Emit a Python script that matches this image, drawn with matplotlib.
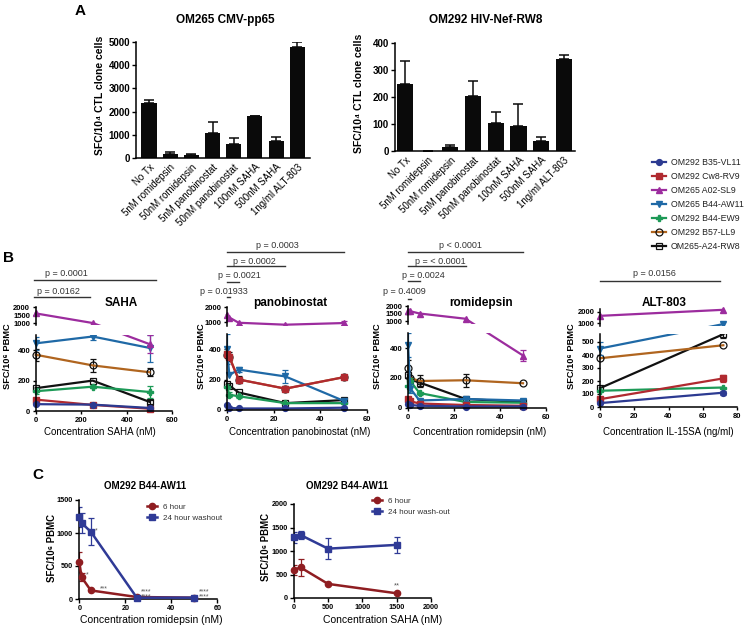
import numpy as np
import matplotlib
matplotlib.use('Agg')
import matplotlib.pyplot as plt
from matplotlib import transforms
from matplotlib.lines import Line2D

plt.rcParams['font.family'] = ['Liberation Sans', 'DejaVu Sans']

W, H = 746, 630

# ---- panel A data
tx_labels = ['No Tx', '5nM romidepsin', '50nM romidepsin', '5nM panobinostat',
             '50nM panobinostat', '100nM SAHA', '500nM SAHA', '1ng/ml ALT-803']
cmv_vals = [2350, 170, 110, 1070, 600, 1800, 740, 4770]
cmv_err = [170, 100, 60, 490, 260, 10, 150, 240]
nef_vals = [250, 0, 14, 204, 104, 93, 37, 342]
nef_err = [83, 0, 7, 56, 40, 81, 15, 12]

# ---- panel B data (order of clones below)
clones = ['OM292 B35-VL11', 'OM292 Cw8-RV9', 'OM265 A02-SL9', 'OM265 B44-AW11',
          'OM292 B44-EW9', 'OM292 B57-LL9', 'OM265-A24-RW8']
clone_colors = ['#2c3a91', '#b02a30', '#9c2c9e', '#1f69a6', '#1d9a57', '#b0651f', '#111111']
clone_markers = ['o', 's', '^', 'v', 'P', 'o', 's']
clone_open = [False, False, False, False, False, True, True]

saha_x = [0, 250, 500]
saha_vals = [[45, 42, 20], [75, 40, 15], [1600, 1000, 440], [445, 490, 415],
             [130, 160, 125], [370, 300, 255], [150, 200, 60]]
saha_err = [[0, 0, 0], [0, 0, 0], [0, 0, 60], [45, 25, 95],
            [20, 10, 40], [40, 45, 25], [0, 0, 15]]

pano_x = [0, 1, 5, 25, 50]
pano_vals = [[35, 15, 10, 10, 15], [370, 345, 200, 140, 215], [1500, 1300, 950, 820, 930],
             [400, 230, 265, 220, 60], [150, 100, 90, 45, 45], [360, 350, 200, 140, 215],
             [170, 160, 115, 45, 65]]
pano_err = [[0, 0, 0, 0, 0], [0, 0, 0, 0, 0], [0, 0, 0, 0, 150],
            [100, 0, 15, 40, 10], [10, 15, 10, 0, 0], [0, 30, 25, 15, 10],
            [0, 0, 0, 0, 0]]

romi_x = [0, 1, 5, 25, 50]
romi_vals = [[30, 20, 15, 10, 10], [60, 45, 30, 20, 15], [1700, 1650, 1500, 1150, 350],
             [420, 130, 50, 60, 50], [150, 180, 100, 40, 35], [270, 200, 180, 185, 165],
             [220, 190, 170, 60, 40]]
romi_err = [[0, 0, 0, 0, 0], [0, 0, 0, 0, 0], [0, 0, 0, 0, 35],
            [80, 30, 10, 15, 10], [40, 20, 10, 0, 0], [50, 0, 40, 45, 0],
            [0, 0, 0, 0, 0]]

alt_x = [0, 72]
alt_vals = [[30, 110], [60, 220], [1650, 2200], [450, 900], [125, 150], [375, 475], [145, 560]]
alt_err = [[0, 15], [0, 25], [0, 0], [50, 0], [0, 0], [0, 0], [0, 30]]

# ---- panel C data
c_romi_x = [0, 1, 5, 25, 50]
c_romi_6h = [560, 330, 130, 30, 20]
c_romi_6h_err = [150, 60, 0, 0, 0]
c_romi_24h = [1240, 1150, 1020, 20, 20]
c_romi_24h_err = [150, 150, 200, 0, 0]

c_saha_x = [0, 100, 500, 1500]
c_saha_6h = [600, 650, 300, 100]
c_saha_6h_err = [110, 190, 0, 0]
c_saha_24h = [1290, 1340, 1050, 1130]
c_saha_24h_err = [110, 80, 230, 170]

fig = plt.figure(figsize=(W / 100, H / 100), dpi=100)


def fx(px):
    return px / W


def fy(py):
    return 1 - py / H


def add_ax(left, right, top, bottom):
    return fig.add_axes([left / W, 1 - bottom / H, (right - left) / W, (bottom - top) / H])


def style_ax(ax):
    for s in ['top', 'right']:
        ax.spines[s].set_visible(False)
    for s in ['left', 'bottom']:
        ax.spines[s].set_linewidth(1.1)
    ax.tick_params(direction='out', length=3, width=1, pad=1.5)


# ================= panel A
def bar_panel(ax, vals, err, ymax, yticks, title, title_x):
    style_ax(ax)
    x = np.arange(len(vals))
    ax.bar(x, vals, width=0.71, color='#0a0a0a', zorder=2)
    ax.errorbar(x, vals, yerr=[np.zeros(len(err)), err], fmt='none', ecolor='#0a0a0a',
                elinewidth=1.1, capsize=3.5, capthick=1.1, zorder=1)
    ax.set_ylim(0, ymax)
    ax.set_yticks(yticks, [str(t) for t in yticks], fontsize=7, fontweight='bold')
    ax.set_xticks(x, tx_labels, rotation=45, ha='right', rotation_mode='anchor', fontsize=7)
    ax.tick_params(axis='x', length=0, pad=3)
    fig.text(fx(title_x), fy(20), title, ha='center', va='center', fontsize=8.5, fontweight='bold')


axA1 = add_ax(136.3, 309.9, 42, 158)
axA1.set_xlim(-0.6, 7.6)
bar_panel(axA1, cmv_vals, cmv_err, 5000, [0, 1000, 2000, 3000, 4000, 5000], 'OM265 CMV-pp65', 225)
axA2 = add_ax(395, 575, 43, 151)
axA2.set_xlim(-0.44, 7.49)
bar_panel(axA2, nef_vals, nef_err, 400, [0, 100, 200, 300, 400], 'OM292 HIV-Nef-RW8', 486)

fig.text(fx(100), fy(95), 'SFC/10⁴ CTL clone cells', rotation=90, ha='center', va='center',
         fontsize=7.5, fontweight='bold')
fig.text(fx(359), fy(93), 'SFC/10⁴ CTL clone cells', rotation=90, ha='center', va='center',
         fontsize=7.5, fontweight='bold')

# ================= panel B
def seg_funcs(s_lo, a, b, p1000, s_hi):
    pb = p1000 - (1000 - b) * s_hi
    xs = np.array([-1e5, a, b, 1e6])
    ys = np.array([-1e5 * s_lo, a * s_lo, pb, pb + (1e6 - b) * s_hi])

    def fwd(v):
        return np.interp(v, xs, ys)

    def inv(p):
        return np.interp(p, ys, xs)
    return fwd, inv


def draw_clone(ax, i, xs, ys, es):
    c = clone_colors[i]
    kw = dict(color=c, lw=1.6, marker=clone_markers[i], ms=4.2, clip_on=False, zorder=2)
    if clone_open[i]:
        kw.update(mfc='none', mec='#111111', mew=0.9, ms=5)
    else:
        kw.update(mfc=c, mec=c)
    xs = np.array(xs, float)
    ys = np.array(ys, float)
    es = np.array(es, float)
    m = es > 0
    if m.any():
        ax.errorbar(xs[m], ys[m], yerr=es[m], fmt='none', ecolor=c if not clone_open[i] else '#111111',
                    elinewidth=0.9, capsize=2.2, capthick=0.9, zorder=2)
    return ax.plot(xs, ys, **kw)[0]


def panel_b(left, right, zero, seg, xs, vals, errs, xlim, xticks, yticks, ytop, spine_top):
    s_lo, a, b, p1000, s_hi = seg
    fwd, inv = seg_funcs(s_lo, a, b, p1000, s_hi)
    height = float(fwd(ytop))
    ax = add_ax(left, right, zero - height, zero)
    style_ax(ax)
    ax.set_yscale('function', functions=(fwd, inv))
    ax.set_ylim(0, ytop)
    ax.set_xlim(*xlim)
    for i in reversed(range(7)):
        draw_clone(ax, i, xs, vals[i], errs[i])
    ax.axhspan(a, b, color='white', lw=0, zorder=2.5)
    ax.spines['left'].set_visible(False)
    yt = ax.get_yaxis_transform()
    ax.plot([0, 0], [0, a], transform=yt, color='k', lw=1.1, clip_on=False, zorder=4)
    ax.plot([0, 0], [b, spine_top], transform=yt, color='k', lw=1.1, clip_on=False, zorder=4)
    ax.set_yticks(yticks, [str(t) for t in yticks], fontsize=5.5, fontweight='bold')
    ax.set_xticks(xticks, [str(t) for t in xticks], fontsize=5.5, fontweight='bold')
    ax.tick_params(length=2.5)
    ax.minorticks_off()
    return ax


def p_line(ax, x0, x1, py, text, text_left, text_py):
    blend = transforms.blended_transform_factory(ax.transData, fig.transFigure)
    ax.plot([x0, x1], [fy(py), fy(py)], transform=blend, color='#333333', lw=1.0, clip_on=False)
    fig.text(fx(text_left), fy(text_py), text, ha='left', va='center', fontsize=6.5, color='#333333')


axS = panel_b(35.7, 172.3, 411, (0.152, 500, 850, 88, 0.016), saha_x, saha_vals, saha_err,
              (0, 600), [0, 200, 400, 600], [0, 200, 400, 1000, 1500, 2000], 2050, 2000)
axP = panel_b(227, 367, 410, (0.1525, 500, 720, 88, 0.015), pano_x, pano_vals, pano_err,
              (0, 60), [0, 20, 40, 60], [0, 200, 400, 1000, 2000], 2050, 2000)
axR = panel_b(408, 546, 408, (0.15, 500, 800, 87, 0.015), romi_x, romi_vals, romi_err,
              (0, 60), [0, 20, 40, 60], [0, 200, 400, 1000, 1500, 2000], 2050, 2000)
axT = panel_b(600, 737, 407, (0.13, 560, 750, 84, 0.011), alt_x, alt_vals, alt_err,
              (0, 80), [0, 20, 40, 60, 80], [0, 100, 200, 300, 400, 500, 1000, 2000], 2300, 2250)

for title, tx in [('SAHA', 121), ('panobinostat', 290), ('romidepsin', 481), ('ALT-803', 664)]:
    fig.text(fx(tx), fy(303), title, ha='center', va='center', fontsize=8.5, fontweight='bold')

for lx in [8, 202, 377, 572]:
    fig.text(fx(lx), fy(356), 'SFC/10⁶ PBMC', rotation=90, ha='center', va='center', fontsize=6.7,
             fontweight='bold')

for cx, txt in [(100, 'Concentration SAHA (nM)'), (300, 'Concentration panobinostat (nM)'),
                (480, 'Concentration romidepsin (nM)'), (668, 'Concentration IL-15SA (ng/ml)')]:
    fig.text(fx(cx), fy(432), txt, ha='center', va='center', fontsize=7)

p_line(axS, -7, 530, 280, 'p = 0.0001', 45, 273)
p_line(axS, -7, 240, 297, 'p = 0.0162', 37, 292)
p_line(axP, 0, 50, 252, 'p = 0.0003', 256, 246)
p_line(axP, 0, 25, 266, 'p = 0.0002', 233, 261)
p_line(axP, 0, 5, 282, 'p = 0.0021', 218, 276)
p_line(axP, 0, 1.5, 297, 'p = 0.01933', 200, 292)
p_line(axR, 0, 50, 252, 'p < 0.0001', 439, 246)
p_line(axR, 0, 25, 266, 'p = < 0.0001', 415, 261)
p_line(axR, 0, 5, 281, 'p = 0.0024', 402, 276)
p_line(axR, 0, 1.5, 299, 'p = 0.4009', 383, 292)
p_line(axT, 0, 70, 281, 'p = 0.0156', 633, 274)

leg_handles = []
for i in range(7):
    c = clone_colors[i]
    if clone_open[i]:
        h = Line2D([], [], color=c, lw=1.6, marker=clone_markers[i], ms=5, mfc='none', mec='#111111', mew=0.9)
    else:
        h = Line2D([], [], color=c, lw=1.6, marker=clone_markers[i], ms=4.2, mfc=c, mec=c)
    leg_handles.append(h)
fig.legend(leg_handles, clones, loc='upper left', bbox_to_anchor=(fx(652), fy(158)),
           frameon=False, fontsize=6.3, handlelength=1.6, handletextpad=0.55,
           labelspacing=0.57, borderpad=0, borderaxespad=0, labelcolor='#222222')

# ================= panel C
c6_color = '#8f1d21'
c24_color = '#2f3a96'


def c_series(ax, xs, ys, es, color, marker, label):
    xs = np.array(xs, float)
    ys = np.array(ys, float)
    es = np.array(es, float)
    m = es > 0
    ax.errorbar(xs[m], ys[m], yerr=es[m], fmt='none', ecolor=color, elinewidth=0.9,
                capsize=2.5, capthick=0.9, zorder=2)
    ax.plot(xs, ys, color=color, lw=1.8, marker=marker, ms=4.5, mfc=color, mec=color,
            clip_on=False, zorder=3, label=label)


axC1 = add_ax(79.3, 217.3, 500, 599)
style_ax(axC1)
c_series(axC1, c_romi_x, c_romi_6h, c_romi_6h_err, c6_color, 'o', '6 hour')
c_series(axC1, c_romi_x, c_romi_24h, c_romi_24h_err, c24_color, 's', '24 hour washout')
axC1.set_xlim(0, 60)
axC1.set_ylim(0, 1500)
axC1.set_xticks([0, 20, 40, 60], ['0', '20', '40', '60'], fontsize=5.2, fontweight='bold')
axC1.set_yticks([0, 500, 1000, 1500], ['0', '500', '1000', '1500'], fontsize=5.2, fontweight='bold')
axC1.legend(loc='upper left', bbox_to_anchor=(fx(147), fy(503)), bbox_transform=fig.transFigure,
            frameon=False, fontsize=5.8, handlelength=1.25, handletextpad=0.7, labelspacing=0.4,
            borderpad=0, borderaxespad=0, labelcolor='#333333')
for sx, sy, s in [(3, 360, '*'), (7, 1030, '*'), (9, 150, '***'), (27, 70, '****\n****'),
                  (52, 70, '****\n****')]:
    axC1.text(sx, sy, s, fontsize=5, color='#555555', ha='left', va='center', linespacing=0.75)

axC2 = add_ax(293.7, 431, 504, 598)
style_ax(axC2)
c_series(axC2, c_saha_x, c_saha_6h, c_saha_6h_err, c6_color, 'o', '6 hour')
c_series(axC2, c_saha_x, c_saha_24h, c_saha_24h_err, c24_color, 's', '24 hour wash-out')
axC2.set_xlim(0, 2000)
axC2.set_ylim(0, 2000)
axC2.set_xticks([0, 500, 1000, 1500, 2000], ['0', '500', '1000', '1500', '2000'], fontsize=5.2,
                fontweight='bold')
axC2.set_yticks([0, 500, 1000, 1500, 2000], ['0', '500', '1000', '1500', '2000'], fontsize=5.2,
                fontweight='bold')
axC2.legend(loc='upper left', bbox_to_anchor=(fx(372), fy(497)), bbox_transform=fig.transFigure,
            frameon=False, fontsize=5.8, handlelength=1.25, handletextpad=0.7, labelspacing=0.4,
            borderpad=0, borderaxespad=0, labelcolor='#333333')
axC2.text(1500, 250, '**', fontsize=5.5, color='#555555', ha='center', va='center')

for tx in [145, 347]:
    fig.text(fx(tx), fy(486), 'OM292 B44-AW11', ha='center', va='center', fontsize=7, fontweight='bold')
fig.text(fx(52), fy(548), 'SFC/10⁶ PBMC', rotation=90, ha='center', va='center', fontsize=6.9,
         fontweight='bold')
fig.text(fx(266), fy(547), 'SFC/10⁶ PBMC', rotation=90, ha='center', va='center', fontsize=6.9,
         fontweight='bold')
fig.text(fx(151), fy(620), 'Concentration romidepsin (nM)', ha='center', va='center', fontsize=7.5)
fig.text(fx(383), fy(620), 'Concentration SAHA (nM)', ha='center', va='center', fontsize=7.5)

# panel letters
fig.text(fx(80), fy(11), 'A', ha='center', va='center', fontsize=11, fontweight='bold')
fig.text(fx(8), fy(258), 'B', ha='center', va='center', fontsize=11, fontweight='bold')
fig.text(fx(38), fy(475), 'C', ha='center', va='center', fontsize=11, fontweight='bold')

fig.savefig('out.png', dpi=100)
